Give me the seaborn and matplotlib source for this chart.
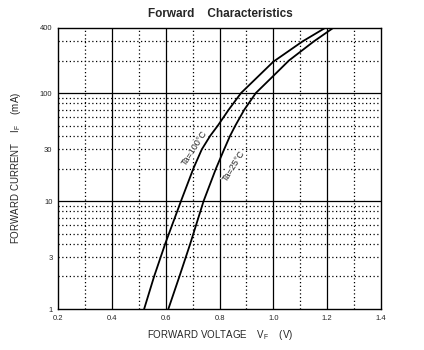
import numpy as np
import pandas as pd
import matplotlib
matplotlib.use("Agg")
import matplotlib.pyplot as plt
import seaborn as sns

# ---- data ----
i_100 = [1, 2, 4, 10, 20, 30, 40, 50, 70, 100, 195, 300, 400]
v_100 = [0.52, 0.557, 0.598, 0.657, 0.703, 0.734, 0.765, 0.794, 0.834, 0.88, 1.0, 1.108, 1.192]
i_25 = [1, 2, 4, 10, 20, 30, 40, 50, 70, 100, 144, 200, 300, 400]
v_25 = [0.61, 0.651, 0.691, 0.741, 0.787, 0.817, 0.839, 0.859, 0.892, 0.935, 1.0, 1.058, 1.15, 1.222]
series_labels = ["Ta=100\u00b0C", "Ta=25\u00b0C"]

x_ticks = [0.2, 0.4, 0.6, 0.8, 1.0, 1.2, 1.4]
x_tick_labels = ["0.2", "0.4", "0.6", "0.8", "1.0", "1.2", "1.4"]
y_ticks = [1, 3, 10, 30, 100, 400]
y_tick_labels = ["1", "3", "10", "30", "100", "400"]

x_major_grid = [0.4, 0.6, 0.8, 1.0, 1.2]
x_minor_grid = [0.3, 0.5, 0.7, 0.9, 1.1, 1.3]
y_major_grid = [10, 100]
y_minor_grid = [2, 3, 4, 5, 6, 7, 8, 9, 20, 30, 40, 50, 60, 70, 80, 90, 200, 300]

df = pd.concat([
    pd.DataFrame({"V": v_100, "I": i_100, "s": series_labels[0]}),
    pd.DataFrame({"V": v_25, "I": i_25, "s": series_labels[1]}),
])

sns.set_style("white")
plt.rcParams["font.family"] = ["Liberation Sans", "DejaVu Sans"]

fig = plt.figure(figsize=(4.24, 3.5), dpi=100)
ax = fig.add_axes([58 / 424, 41 / 350, 323 / 424, 281 / 350])

dotted = (0, (1, 2))
for x in x_major_grid:
    ax.axvline(x, color="black", lw=0.9, zorder=1)
for x in x_minor_grid:
    ax.axvline(x, color="black", lw=0.9, ls=dotted, zorder=1)
for y in y_major_grid:
    ax.axhline(y, color="black", lw=0.9, zorder=1)
for y in y_minor_grid:
    ax.axhline(y, color="black", lw=0.9, ls=dotted, zorder=1)

sns.lineplot(data=df, x="V", y="I", units="s", estimator=None, color="black",
             lw=1.3, sort=False, ax=ax, legend=False, zorder=3)

ax.set_yscale("log")
ax.set_xlim(0.2, 1.4)
ax.set_ylim(1, 400)
ax.set_xticks(x_ticks)
ax.set_xticklabels(x_tick_labels, fontsize=5.5)
ax.set_yticks(y_ticks)
ax.set_yticklabels(y_tick_labels, fontsize=5.5)
ax.minorticks_off()
ax.tick_params(length=0, pad=4)
for sp in ax.spines.values():
    sp.set_visible(True)
    sp.set_color("black")
    sp.set_linewidth(1.0)
ax.set_xlabel("")
ax.set_ylabel("")

ax.text(0.706, 31, series_labels[0], rotation=57, fontsize=6.5,
        ha="center", va="center", rotation_mode="anchor", zorder=4,
        bbox=dict(facecolor="white", edgecolor="none", pad=0.3))
ax.text(0.852, 21, series_labels[1], rotation=58, fontsize=6.5,
        ha="center", va="center", rotation_mode="anchor", zorder=4,
        bbox=dict(facecolor="white", edgecolor="none", pad=0.3))

fig.text(220 / 424, 1 - 14 / 350, "Forward    Characteristics", fontsize=8.5,
         fontweight="bold", ha="center", va="center")
fig.text(220 / 424, 1 - 335 / 350,
         r"FORWARD VOLTAGE    V$_{\mathregular{F}}$    (V)", fontsize=7,
         ha="center", va="center")
fig.text(16 / 424, 1 - 168 / 350,
         r"FORWARD CURRENT    I$_{\mathregular{F}}$    (mA)", fontsize=7,
         ha="center", va="center", rotation=90)

fig.savefig("out.png", dpi=100)
